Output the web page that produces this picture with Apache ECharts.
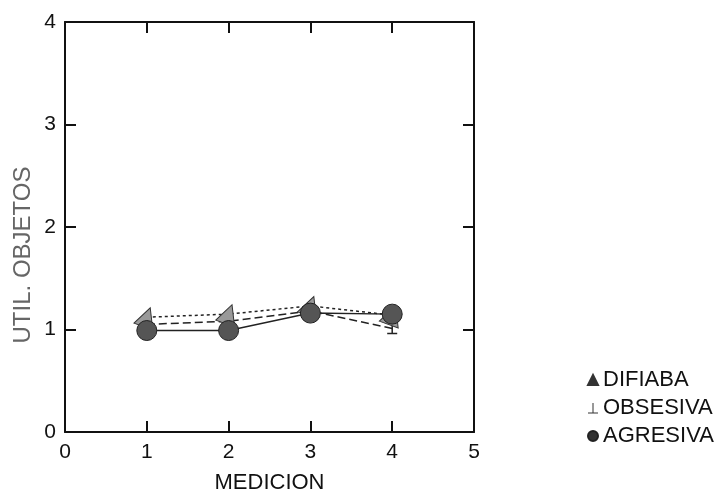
<!DOCTYPE html>
<html><head><meta charset="utf-8">
<script src="https://cdn.jsdelivr.net/npm/echarts@6/dist/echarts.min.js"></script>
<style>html,body{margin:0;padding:0;background:#fff}#c{width:727px;height:496px}</style>
</head><body><div id="c"></div>
<script>
const mediciones = [1, 2, 3, 4];
const difiaba = [1.12, 1.15, 1.23, 1.14];
const obsesiva = [1.05, 1.08, 1.18, 1.01];
const agresiva = [0.99, 0.99, 1.16, 1.15];
const xTicks = [0, 1, 2, 3, 4, 5];
const yTicks = [0, 1, 2, 3, 4];
const seriesNames = ['DIFIABA', 'OBSESIVA', 'AGRESIVA'];
const xName = 'MEDICION';
const yName = 'UTIL. OBJETOS';

const font = 'Liberation Sans, Arial, sans-serif';
const obsPath = 'path://M0,10 L10,10 M5,10 L5,0';
function pts(v){ return mediciones.map((m,i)=>[m, v[i]]); }
const axLine = {onZero:false, lineStyle:{color:'#111', width:2}};
const tick = {inside:true, length:11, lineStyle:{color:'#111', width:2}};

const chart = echarts.init(document.getElementById('c'));
chart.setOption({
  animation: false,
  grid: {left: 65, right: 253, top: 22, bottom: 64, containLabel:false, outerBoundsMode:'none'},
  xAxis: [
    {type:'value', min:xTicks[0], max:xTicks[xTicks.length-1], interval:1, position:'bottom',
     name:xName, nameLocation:'middle', nameGap:40,
     nameTextStyle:{fontFamily:font, fontSize:22, color:'#111'},
     axisLine:axLine, axisTick:tick,
     axisLabel:{fontFamily:font, fontSize:21, color:'#111', margin:10},
     splitLine:{show:false}},
    {type:'value', min:xTicks[0], max:xTicks[xTicks.length-1], interval:1, position:'top',
     axisLine:axLine, axisTick:tick, axisLabel:{show:false}, splitLine:{show:false}}
  ],
  yAxis: [
    {type:'value', min:yTicks[0], max:yTicks[yTicks.length-1], interval:1, position:'left',
     axisLine:axLine, axisTick:tick,
     axisLabel:{fontFamily:font, fontSize:21, color:'#111', margin:9},
     splitLine:{show:false}},
    {type:'value', min:yTicks[0], max:yTicks[yTicks.length-1], interval:1, position:'right',
     axisLine:axLine, axisTick:tick, axisLabel:{show:false}, splitLine:{show:false}}
  ],
  graphic: [
    {type:'text', x:23, y:255, rotation:Math.PI/2,
     style:{text:yName, font:'24px Liberation Sans, Arial, sans-serif', fill:'#666',
            textAlign:'center', textVerticalAlign:'middle'}}
  ],
  legend: {
    orient:'vertical', left: 582, top: 364, itemGap: 6, itemWidth: 10, itemHeight: 10,
    textStyle:{fontFamily:font, fontSize:22, lineHeight:22, color:'#111'},
    data:[
      {name:seriesNames[0], icon:'triangle', itemStyle:{color:'#333'}},
      {name:seriesNames[1], icon:obsPath, itemStyle:{color:'#fff', borderColor:'#333', borderWidth:1}},
      {name:seriesNames[2], icon:'circle', itemStyle:{color:'#333'}}
    ]
  },
  series: [
    {name:seriesNames[0], type:'line', data:pts(difiaba), symbol:'triangle', symbolSize:20, symbolRotate:-20,
     lineStyle:{color:'#222', width:1.5, type:[3,3]}, itemStyle:{color:'#999', borderColor:'#333', borderWidth:1}, z:3},
    {name:seriesNames[1], type:'line', data:pts(obsesiva), symbol:obsPath, symbolSize:10,
     lineStyle:{color:'#222', width:1.5, type:[8,4]}, itemStyle:{color:'#fff', borderColor:'#222', borderWidth:1.5}, z:2},
    {name:seriesNames[2], type:'line', data:pts(agresiva), symbol:'circle', symbolSize:20,
     lineStyle:{color:'#222', width:1.5}, itemStyle:{color:'#555', borderColor:'#222', borderWidth:1}, z:4}
  ]
});
</script></body></html>
